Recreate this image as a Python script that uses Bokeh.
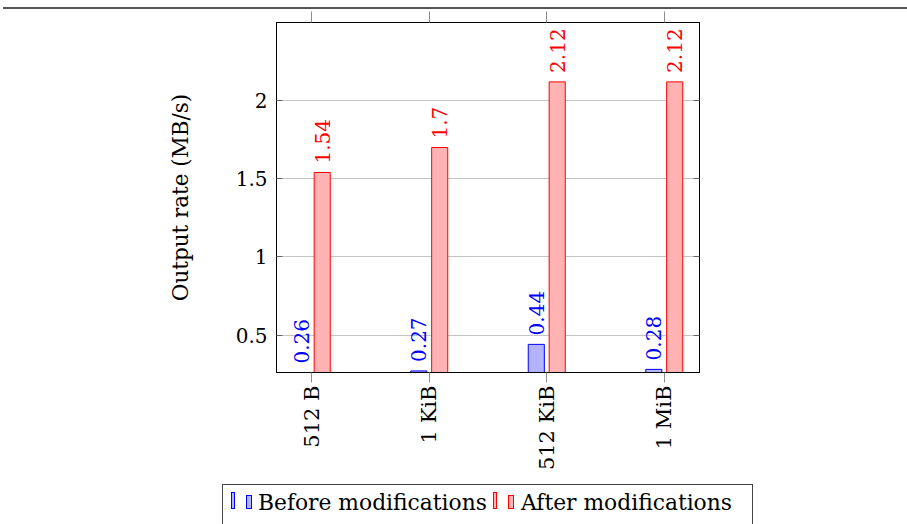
import math
import numpy as np
from bokeh.plotting import figure
from bokeh.layouts import column
from bokeh.models import (ColumnDataSource, Range1d, FixedTicker, LinearAxis,
                          NumeralTickFormatter, Div)
from bokeh.core.properties import value
from bokeh.embed import file_html
from bokeh.resources import INLINE

# Data
block_sizes = ["512 B", "1 KiB", "512 KiB", "1 MiB"]
before_rate = [0.26, 0.27, 0.44, 0.28]
after_rate = [1.54, 1.70, 2.12, 2.12]
y_ticks = [0.5, 1, 1.5, 2]
series_names = ["Before modifications", "After modifications"]

FONT = "DejaVu Serif"
BLUE, BLUE_FILL = "#0000ff", "#b3b3ff"
RED, RED_FILL = "#ff0000", "#ffb3b3"
TICK_GRAY = "#8c8c8c"

W = 907

# Thin horizontal rule across the page
rule = Div(width=W, height=11, margin=0, styles={"overflow": "hidden"}, text=(
    '<div style="position:relative;width:907px;height:11px;">'
    '<div style="position:absolute;left:3px;top:6px;width:904px;height:0;'
    'border-top:2px solid #555555;"></div></div>'))

# Main bar chart
idx = np.arange(len(block_sizes))
shift = 0.089
bar_w = 0.137
src = ColumnDataSource(dict(
    xb=idx - shift, xa=idx + shift,
    before=before_rate, after=after_rate,
    before_lbl=[f"{v:g}" for v in before_rate],
    after_lbl=[f"{v:g}" for v in after_rate],
))

p = figure(width=W, height=469, x_range=Range1d(-0.3, 3.3), y_range=Range1d(0.26, 2.5),
           toolbar_location=None, output_backend="svg",
           min_border_left=276, min_border_right=208, min_border_top=11,
           min_border_bottom=108)
p.outline_line_color = "black"
p.outline_line_width = 1
p.xgrid.visible = False
p.ygrid.ticker = FixedTicker(ticks=y_ticks)
p.ygrid.grid_line_color = "#c4c4c4"
p.ygrid.grid_line_width = 1

# bottom axis: block size labels
xa = p.xaxis[0]
xa.ticker = FixedTicker(ticks=list(idx))
xa.major_label_overrides = {int(i): s for i, s in zip(idx, block_sizes)}
xa.major_label_orientation = math.pi / 2
xa.major_label_text_font = FONT
xa.major_label_text_font_size = "21px"
xa.major_label_text_color = "black"
xa.major_label_standoff = 3
xa.major_tick_in = 0
xa.major_tick_out = 10
xa.major_tick_line_color = TICK_GRAY
xa.minor_tick_line_color = None
xa.axis_line_color = "black"

# top axis: ticks only, labels not drawn
top = LinearAxis(ticker=FixedTicker(ticks=list(idx)), major_label_text_font_size="1px",
                 major_label_text_color=None, major_label_standoff=0,
                 major_tick_in=0, major_tick_out=11,
                 major_tick_line_color=TICK_GRAY, minor_tick_line_color=None,
                 axis_line_color="black")
p.add_layout(top, "above")

# left axis
ya = p.yaxis[0]
ya.ticker = FixedTicker(ticks=y_ticks)
ya.formatter = NumeralTickFormatter(format="0.[0]")
ya.major_label_text_font = FONT
ya.major_label_text_font_size = "20px"
ya.major_label_text_color = "black"
ya.major_label_standoff = 9
ya.major_tick_in = 6
ya.major_tick_out = 0
ya.major_tick_line_color = "#666666"
ya.minor_tick_line_color = None
ya.axis_line_color = "black"
ya.axis_label = "Output rate (MB/s)"
ya.axis_label_text_font = FONT
ya.axis_label_text_font_size = "21.5px"
ya.axis_label_text_font_style = "normal"
ya.axis_label_text_color = "black"
ya.axis_label_standoff = 40

# right axis: inner ticks only
right = LinearAxis(ticker=FixedTicker(ticks=y_ticks), major_label_text_font_size="1px",
                   major_label_text_color=None, major_label_standoff=0,
                   major_tick_in=6, major_tick_out=0,
                   major_tick_line_color="#666666", minor_tick_line_color=None,
                   axis_line_color="black")
p.add_layout(right, "right")

p.vbar(x="xb", top="before", bottom=0, width=bar_w, source=src,
       fill_color=BLUE_FILL, line_color=BLUE, line_width=1)
p.vbar(x="xa", top="after", bottom=0, width=bar_w, source=src,
       fill_color=RED_FILL, line_color=RED, line_width=1)

p.text(x="xb", y="before", text="before_lbl", source=src, angle=math.pi / 2,
       text_align="left", text_baseline="middle", y_offset=-9,
       text_font=value(FONT), text_font_size="20px", text_color=BLUE)
p.text(x="xa", y="after", text="after_lbl", source=src, angle=math.pi / 2,
       text_align="left", text_baseline="middle", y_offset=-9,
       text_font=value(FONT), text_font_size="20px", text_color=RED)


# Legend panel with paired-bar icons
def bar_icon(left, top, width, height, fill, line):
    return (f'<div style="position:absolute;left:{left}px;top:{top}px;width:{width}px;'
            f'height:{height}px;background:{fill};border:1px solid {line};"></div>')


def label(left, text):
    return (f'<span style="position:absolute;left:{left}px;top:12px;line-height:1;'
            f'white-space:nowrap;">{text}</span>')


legend_html = (
    '<div style="position:relative;width:907px;height:44px;'
    f"font-family:'{FONT}';font-size:21.8px;color:black;\">"
    '<div style="position:absolute;left:222px;top:4px;width:531px;height:60px;'
    'border:1px solid #444444;box-sizing:border-box;"></div>'
    + bar_icon(231, 12, 4, 17, BLUE_FILL, BLUE)
    + bar_icon(246, 15, 6, 14, BLUE_FILL, BLUE)
    + label(258, series_names[0])
    + bar_icon(493, 12, 4, 17, RED_FILL, RED)
    + bar_icon(508, 15, 6, 14, RED_FILL, RED)
    + label(521, series_names[1])
    + '</div>'
)
leg = Div(width=W, height=44, margin=0, styles={"overflow": "hidden"}, text=legend_html)

layout = column(rule, p, leg, spacing=0)
open("out.html", "w").write(file_html(layout, INLINE))
